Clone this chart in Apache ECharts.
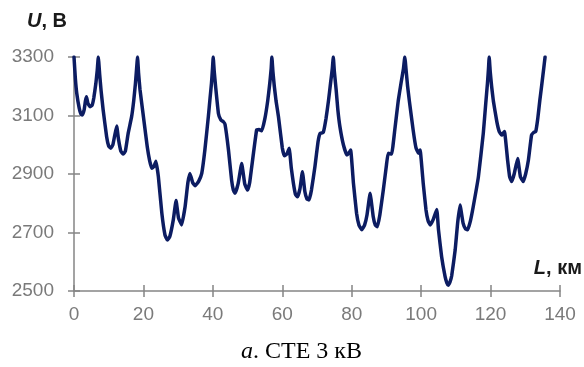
<!DOCTYPE html>
<html>
<head>
<meta charset="utf-8">
<script src="https://cdn.jsdelivr.net/npm/echarts@6/dist/echarts.min.js"></script>
<style>
html,body{margin:0;padding:0;background:#fff;}
#c{width:584px;height:367px;}
</style>
</head>
<body>
<div id="c"></div>
<script>
// Distance L, km
var L = [0,0.4,0.8,1.5,2.0,2.4,2.9,3.3,3.6,4.0,4.6,5.2,5.7,6.3,6.7,7.0,7.4,7.8,8.4,9.4,10.0,10.6,11.2,11.7,12.3,12.8,13.5,14.2,14.8,15.6,16.6,17.2,17.7,18.0,18.3,18.6,19.0,20.0,21.1,21.8,22.4,23.0,23.6,24.3,25.3,26.2,26.9,27.6,28.6,29.4,30.1,31.0,32.0,32.8,33.4,34.2,34.9,35.9,36.8,37.7,38.7,39.2,39.6,39.9,40.1,40.4,40.8,41.6,42.3,43.0,43.5,44.5,45.4,45.9,46.4,47.3,48.3,49.2,50.0,50.6,51.2,52.6,53.3,54.1,55.0,55.8,56.4,56.8,57.0,57.3,57.7,58.2,58.9,60.0,60.6,61.4,62.0,62.6,63.2,63.8,64.4,65.1,65.8,66.5,67.1,67.7,68.4,69.4,70.3,70.9,71.8,72.6,73.3,73.9,74.4,74.7,75.0,75.5,76.0,76.6,77.6,78.6,79.2,79.7,80.5,81.4,82.1,82.9,83.7,84.4,85.3,86.2,86.8,87.4,88.1,89.1,90.0,90.5,91.5,92.4,93.4,94.2,94.9,95.3,95.7,96.1,96.6,97.7,98.5,99.2,99.7,100.6,101.4,102.0,102.6,103.5,104.5,105.0,105.9,106.9,107.4,107.8,108.3,108.8,109.8,110.5,111.2,112.1,112.8,113.4,114.2,115.0,116.5,117.9,118.6,119.1,119.4,119.6,119.9,120.3,120.8,121.8,122.5,123.2,124.0,124.9,125.5,126.1,126.8,127.8,128.6,129.4,130.1,130.9,131.8,132.4,133.0,133.6,134.2,134.8,135.3,135.7];
// Voltage U, V
var U = [3300,3225,3175,3125,3105,3102,3118,3150,3164,3142,3130,3135,3160,3210,3255,3300,3240,3185,3119,3027,2995,2988,3000,3030,3064,3020,2978,2968,2978,3039,3096,3150,3210,3255,3300,3245,3190,3096,2993,2945,2920,2925,2944,2891,2766,2692,2674,2686,2743,2809,2750,2726,2788,2870,2902,2870,2860,2875,2902,2982,3096,3160,3210,3260,3300,3250,3198,3107,3085,3079,3070,2982,2879,2845,2834,2868,2936,2865,2845,2870,2925,3050,3052,3048,3090,3150,3210,3260,3300,3250,3200,3150,3096,2990,2962,2970,2988,2920,2868,2830,2822,2850,2908,2840,2815,2811,2845,2925,3010,3039,3042,3090,3150,3210,3260,3300,3250,3190,3120,3062,3000,2965,2972,2982,2868,2766,2725,2709,2725,2760,2834,2754,2725,2720,2760,2845,2930,2971,2968,3050,3150,3210,3260,3300,3250,3200,3150,3050,2990,2971,2982,2868,2777,2740,2726,2745,2779,2709,2617,2549,2528,2520,2530,2552,2640,2731,2794,2731,2712,2709,2740,2788,2891,3039,3140,3210,3260,3300,3250,3200,3150,3079,3045,3033,3045,2948,2890,2874,2900,2953,2890,2874,2900,2948,3033,3042,3045,3090,3153,3210,3260,3300];
var xTicks = [0,20,40,60,80,100,120,140];
var yTicks = [2500,2700,2900,3100,3300];

var data = L.map(function(v,i){return [v,U[i]];});
var axisCol = '#858585';
var labCol = '#7a7a7a';
var chart = echarts.init(document.getElementById('c'));
chart.setOption({
  animation:false,
  grid:{left:74,right:24,top:57,bottom:76},
  xAxis:[{
    type:'value',min:xTicks[0],max:xTicks[xTicks.length-1],interval:20,
    axisLine:{show:true,lineStyle:{color:axisCol,width:1.5}},
    axisTick:{show:true,length:6,lineStyle:{color:axisCol,width:1.5}},
    axisLabel:{color:labCol,fontSize:19,fontFamily:'Liberation Sans',margin:14,formatter:function(v){return String(v);}},
    splitLine:{show:false}
  },{
    type:'value',min:xTicks[0],max:xTicks[xTicks.length-1],interval:20,position:'bottom',
    axisLine:{show:false},
    axisTick:{show:true,inside:true,length:6,lineStyle:{color:axisCol,width:1.5}},
    axisLabel:{show:false},splitLine:{show:false}
  }],
  yAxis:[{
    type:'value',min:yTicks[0],max:yTicks[yTicks.length-1],interval:200,
    axisLine:{show:true,lineStyle:{color:axisCol,width:1.5}},
    axisTick:{show:true,length:6,lineStyle:{color:axisCol,width:1.5}},
    axisLabel:{color:labCol,fontSize:19,fontFamily:'Liberation Sans',margin:20,formatter:function(v){return String(v);}},
    splitLine:{show:false}
  },{
    type:'value',min:yTicks[0],max:yTicks[yTicks.length-1],interval:200,position:'left',
    axisLine:{show:false},
    axisTick:{show:true,inside:true,length:6,lineStyle:{color:axisCol,width:1.5}},
    axisLabel:{show:false},splitLine:{show:false}
  }],
  series:[{
    type:'line',data:data,showSymbol:false,smooth:0.1,
    lineStyle:{color:'#0c1c62',width:3.5,join:'round',cap:'round'},
    z:5
  }],
  graphic:[
    {type:'text',left:27,top:11,style:{
      text:'{i|U}{b|, В}',
      rich:{i:{fontFamily:'Liberation Sans',fontSize:20,fontWeight:'bold',fontStyle:'italic',fill:'#1a1a1a'},
            b:{fontFamily:'Liberation Sans',fontSize:20,fontWeight:'bold',fill:'#1a1a1a'}}
    }},
    {type:'text',right:2,top:258,style:{
      text:'{i|L}{b|, км}',
      rich:{i:{fontFamily:'Liberation Sans',fontSize:20,fontWeight:'bold',fontStyle:'italic',fill:'#1a1a1a'},
            b:{fontFamily:'Liberation Sans',fontSize:20,fontWeight:'bold',fill:'#1a1a1a'}}
    }},
    {type:'text',left:241,top:340,style:{
      text:'{i|а}{n|. СТЕ 3 кВ}',
      rich:{i:{fontFamily:'Liberation Serif',fontSize:24,fontStyle:'italic',fill:'#000'},
            n:{fontFamily:'Liberation Serif',fontSize:24,fill:'#000'}}
    }}
  ]
});
</script>
</body>
</html>
